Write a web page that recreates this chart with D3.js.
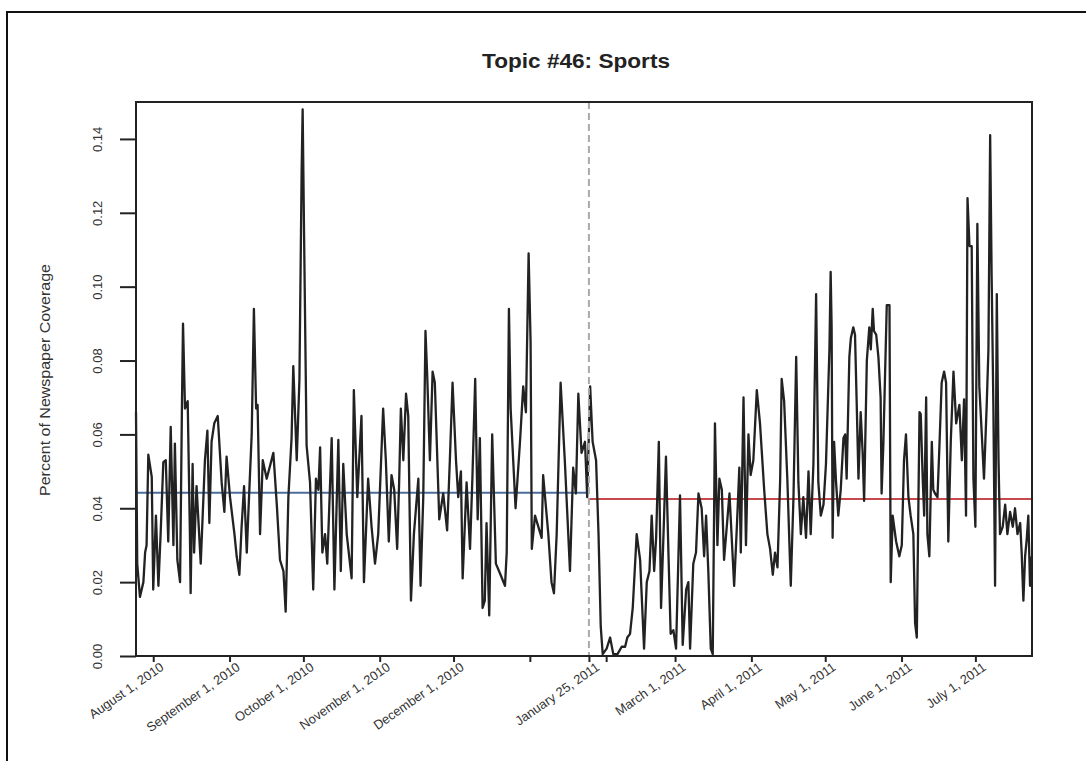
<!DOCTYPE html>
<html>
<head>
<meta charset="utf-8">
<script src="https://cdn.jsdelivr.net/npm/d3@7/dist/d3.min.js"></script>
<style>
  html, body { margin: 0; padding: 0; background: #fff; }
  svg { display: block; font-family: "Liberation Sans", Arial, sans-serif; }
  .axis path, .axis line { stroke: #222; stroke-width: 2; }
  .axis text { fill: #333; }
</style>
</head>
<body>
<svg id="chart" width="1086" height="761"></svg>
<script>
// ── Data ──
// day offsets from July 25, 2010 and the share of coverage on that day
const dayOffsets = [
  0, 0.5, 1.6, 3.0, 3.7, 4.3, 5.0, 6.4, 7.0, 8.1, 9.1, 10.0, 11.1, 12.1, 13.1, 14.1, 15.2, 15.8, 16.8, 17.9,
  18.7, 19.1, 19.9, 21.0, 21.9, 22.2, 23.0, 23.6, 24.6, 26.3, 28.0, 29.0, 29.8, 30.7, 31.8, 33.2, 34.8, 35.9, 36.8, 38.2,
  40.0, 40.9, 42.0, 42.9, 43.9, 45.0, 45.6, 47.0, 47.9, 48.8, 49.4, 50.4, 51.5, 53.1, 55.8, 57.2, 58.5, 59.9, 60.8, 61.9,
  63.2, 63.9, 65.3, 66.4, 67.3, 67.7, 68.3, 69.3, 70.7, 72.0, 73.1, 74.1, 74.8, 75.7, 76.8, 77.7, 79.5, 80.6, 82.2, 83.2,
  84.2, 85.6, 87.6,
  88.5, 89.9, 91.6, 92.6, 94.3, 95.7, 97.1, 98.4, 100.4, 101.5, 102.7, 103.8, 104.9, 106.1, 106.9, 107.6, 108.6, 109.7, 110.6, 111.7,
  112.9, 114.7, 115.6, 116.7, 117.6, 118.3, 119.4, 120.5, 121.4, 123.2, 124.8, 126.4, 127.5, 128.6, 130.0, 130.9, 132.0, 132.7, 134.3, 135.7,
  136.7, 137.8, 138.8, 139.7, 140.8, 141.7, 142.4, 143.5, 144.7, 146.2, 148.1, 149.9, 150.6, 151.5, 152.2, 154.2, 156.0, 157.3, 158.4, 159.5,
  160.3, 160.8, 162.1, 164.8, 165.4, 167.5, 168.8, 169.8, 170.9, 172.5, 174.2, 176.3, 177.6, 178.7, 179.7, 181.0, 182.4, 183.3,
  184.5, 185.5, 186.9, 187.9, 188.8, 189.6, 191.2, 192.6, 193.9, 195.6, 197.3, 198.7, 199.6, 200.7, 201.8, 203.4, 204.8, 206.4, 207.5, 208.6,
  209.5, 210.5, 211.3, 212.4, 213.3, 214.3, 215.3, 216.3, 217.2, 218.3, 219.4, 221.0, 222.1, 223.5, 224.4, 225.1, 226.4, 227.5, 228.5, 229.8,
  230.8, 231.6, 232.5, 233.5, 234.3, 235.2, 236.2, 237.0, 238.0, 238.9, 240.0, 241.1, 243.0, 244.1, 245.1, 245.7, 246.8, 247.8, 248.8, 249.7,
  250.8, 252.2, 253.5, 255.2, 256.5, 257.6, 258.7, 259.6, 260.6, 261.7, 262.3, 263.3, 264.6, 266.0, 267.1, 268.2, 269.1, 270.1, 271.1, 272.2,
  273.2, 274.1, 275.2, 276.3, 277.2, 278.2, 279.3, 280.3,
  281.7, 282.2, 282.6, 283.0, 283.6, 284.4, 285.3, 286.3, 287.4, 288.1, 288.7, 289.8, 290.4, 291.4, 292.1, 292.8, 293.5, 294.4, 295.2, 295.8,
  296.9, 297.9, 298.5, 299.3, 299.8, 300.7, 301.6, 302.5, 302.9, 303.6, 305.0, 306.1, 306.6, 307.4, 308.8, 310.1, 311.1, 312.0, 312.8, 313.8,
  314.7, 315.8, 316.5, 317.2, 318.3, 318.8, 319.6, 320.2, 321.0, 321.5, 322.3, 323.3, 323.9, 324.6, 325.6, 326.4, 327.3, 328.3, 329.1, 330.0,
  331.0, 332.1, 333.2, 334.5, 335.5, 336.4, 337.2, 337.8, 338.6, 339.5, 340.2, 341.0, 341.8, 342.6, 343.6, 344.5, 345.6, 346.3, 347.0, 347.6,
  348.3, 349.0, 349.7, 350.4, 351.0, 352.1, 353.1, 354.0, 355.1, 356.2, 357.1, 358.1, 359.2, 359.8, 360.5, 361.2, 361.9, 362.5, 363.2, 363.9
];
const coverage = [
  0.066, 0.025, 0.016, 0.020, 0.028, 0.030, 0.0545, 0.0485, 0.018, 0.038, 0.019, 0.033, 0.0525, 0.053, 0.031, 0.062, 0.030, 0.0575, 0.026, 0.020,
  0.070, 0.090, 0.067, 0.069, 0.033, 0.017, 0.052, 0.028, 0.046, 0.025, 0.053, 0.061, 0.036, 0.058, 0.063, 0.065, 0.047, 0.039, 0.054, 0.043,
  0.033, 0.027, 0.022, 0.035, 0.046, 0.028, 0.038, 0.060, 0.094, 0.067, 0.068, 0.033, 0.053, 0.048, 0.055, 0.041, 0.026, 0.023, 0.012, 0.043,
  0.059, 0.0785, 0.053, 0.075, 0.132, 0.148, 0.113, 0.057, 0.047, 0.018, 0.048, 0.045, 0.0565, 0.028, 0.033, 0.025, 0.059, 0.018, 0.0585, 0.023,
  0.052, 0.033, 0.021,
  0.072, 0.043, 0.065, 0.020, 0.048, 0.035, 0.025, 0.033, 0.067, 0.053, 0.031, 0.049, 0.045, 0.029, 0.047, 0.067, 0.053, 0.071, 0.065, 0.015,
  0.033, 0.048, 0.019, 0.043, 0.088, 0.076, 0.053, 0.077, 0.074, 0.037, 0.044, 0.034, 0.053, 0.074, 0.053, 0.043, 0.050, 0.021, 0.047, 0.029,
  0.049, 0.075, 0.037, 0.059, 0.013, 0.015, 0.036, 0.011, 0.060, 0.025, 0.022, 0.019, 0.028, 0.094, 0.067, 0.040, 0.058, 0.073, 0.066, 0.109,
  0.085, 0.029, 0.038, 0.032, 0.049, 0.033, 0.020, 0.017, 0.033, 0.074, 0.053, 0.023, 0.051, 0.044, 0.071, 0.055, 0.058, 0.043,
  0.073, 0.058, 0.053, 0.033, 0.008, 0.0005, 0.002, 0.005, 0.0005, 0.0005, 0.0025, 0.0025, 0.005, 0.006, 0.013, 0.033, 0.026, 0.002, 0.020, 0.023,
  0.038, 0.023, 0.032, 0.058, 0.013, 0.033, 0.054, 0.028, 0.006, 0.007, 0.002, 0.0435, 0.003, 0.018, 0.020, 0.002, 0.025, 0.028, 0.044, 0.040,
  0.027, 0.038, 0.023, 0.002, 0.0005, 0.063, 0.030, 0.048, 0.045, 0.026, 0.035, 0.044, 0.019, 0.035, 0.051, 0.028, 0.070, 0.030, 0.060, 0.049,
  0.053, 0.072, 0.063, 0.045, 0.033, 0.029, 0.022, 0.028, 0.024, 0.048, 0.075, 0.069, 0.048, 0.019, 0.043, 0.081, 0.047, 0.033, 0.043, 0.032,
  0.050, 0.033, 0.052, 0.098, 0.047, 0.038, 0.041, 0.052,
  0.083, 0.104, 0.089, 0.032, 0.058, 0.047, 0.038, 0.045, 0.059, 0.060, 0.048, 0.081, 0.086, 0.089, 0.087, 0.068, 0.048, 0.066, 0.055, 0.042,
  0.080, 0.089, 0.083, 0.094, 0.088, 0.087, 0.081, 0.070, 0.044, 0.057, 0.095, 0.095, 0.020, 0.038, 0.031, 0.027, 0.030, 0.053, 0.060, 0.043,
  0.038, 0.033, 0.009, 0.005, 0.066, 0.0655, 0.048, 0.038, 0.070, 0.033, 0.027, 0.058, 0.045, 0.044, 0.043, 0.057, 0.074, 0.077, 0.074, 0.031,
  0.058, 0.077, 0.063, 0.068, 0.053, 0.0695, 0.038, 0.124, 0.111, 0.111, 0.048, 0.035, 0.117, 0.073, 0.060, 0.048, 0.068, 0.083, 0.141, 0.103,
  0.068, 0.019, 0.098, 0.053, 0.033, 0.035, 0.041, 0.033, 0.039, 0.035, 0.040, 0.033, 0.036, 0.028, 0.015, 0.027, 0.032, 0.038, 0.019, 0.027
];

// before / after means and the break date
const meanBefore = 0.0442;
const meanAfter = 0.0425;
const breakDate = new Date(2011, 0, 25);

// tick dates; Jan 1 and Feb 1 carry a tick without a label
const tickDates = [
  new Date(2010, 7, 1), new Date(2010, 8, 1), new Date(2010, 9, 1), new Date(2010, 10, 1),
  new Date(2010, 11, 1), new Date(2011, 0, 1), new Date(2011, 0, 25), new Date(2011, 1, 1),
  new Date(2011, 2, 1), new Date(2011, 3, 1), new Date(2011, 4, 1), new Date(2011, 5, 1), new Date(2011, 6, 1)
];
const tickLabels = [
  "August 1, 2010", "September 1, 2010", "October 1, 2010", "November 1, 2010",
  "December 1, 2010", "", "January 25, 2011", "",
  "March 1, 2011", "April 1, 2011", "May 1, 2011", "June 1, 2011", "July 1, 2011"
];
const yTicks = [0, 0.02, 0.04, 0.06, 0.08, 0.10, 0.12, 0.14];

const startDate = new Date(2010, 6, 25);
const endDate = new Date(2011, 6, 24);
const DAY = 24 * 3600 * 1000;

// ── Layout ──
const plot = { left: 136, right: 1032, top: 102, bottom: 656 };
const svg = d3.select('#chart');

// outer frame (only top and left edges are visible in the picture)
svg.append('path')
  .attr('d', 'M7,761 L7,12 L1086,12')
  .attr('fill', 'none').attr('stroke', '#111').attr('stroke-width', 2);

const x = d3.scaleTime().domain([startDate, endDate]).range([plot.left, plot.right]);
const y = d3.scaleLinear().domain([0, 0.15]).range([plot.bottom, plot.top]);

const series = dayOffsets.map((d, i) => ({ date: new Date(startDate.getTime() + d * DAY), value: coverage[i] }));

// title
svg.append('text')
  .attr('x', 576).attr('y', 68)
  .attr('text-anchor', 'middle')
  .attr('font-size', 20).attr('font-weight', 'bold').attr('fill', '#222')
  .attr('textLength', 188).attr('lengthAdjust', 'spacingAndGlyphs')
  .text('Topic #46: Sports');

// y axis title
svg.append('text')
  .attr('transform', `translate(50,380) rotate(-90)`)
  .attr('text-anchor', 'middle')
  .attr('font-size', 14).attr('fill', '#333')
  .attr('textLength', 232).attr('lengthAdjust', 'spacingAndGlyphs')
  .text('Percent of Newspaper Coverage');

// mean lines
svg.append('line')
  .attr('x1', plot.left).attr('x2', x(breakDate))
  .attr('y1', y(meanBefore)).attr('y2', y(meanBefore))
  .attr('stroke', '#4a6e9c').attr('stroke-width', 2);
svg.append('line')
  .attr('x1', x(breakDate)).attr('x2', plot.right)
  .attr('y1', y(meanAfter)).attr('y2', y(meanAfter))
  .attr('stroke', '#c8494b').attr('stroke-width', 2);

// series line
const line = d3.line().x(d => x(d.date)).y(d => y(d.value));
svg.append('path')
  .datum(series)
  .attr('d', line)
  .attr('fill', 'none').attr('stroke', '#222').attr('stroke-width', 2.3)
  .attr('stroke-linejoin', 'round');

// dashed break line
svg.append('line')
  .attr('x1', x(breakDate)).attr('x2', x(breakDate))
  .attr('y1', plot.top).attr('y2', plot.bottom)
  .attr('stroke', '#aaa').attr('stroke-width', 2).attr('stroke-dasharray', '7,4');

// ── Axes ──
const xAxis = svg.append('g')
  .attr('class', 'axis')
  .attr('transform', `translate(0,${plot.bottom})`)
  .call(d3.axisBottom(x).tickValues(tickDates).tickSize(6).tickSizeOuter(0)
    .tickFormat((d, i) => tickLabels[i]));
xAxis.select('.domain').remove();
xAxis.selectAll('text')
  .attr('x', 0).attr('y', 0).attr('dy', 0)
  .attr('text-anchor', 'end')
  .attr('font-size', 13)
  .attr('transform', 'translate(11,13) rotate(-35)');

const yAxis = svg.append('g')
  .attr('class', 'axis')
  .attr('transform', `translate(${plot.left},0)`)
  .call(d3.axisLeft(y).tickValues(yTicks).tickSize(16).tickFormat(d3.format('.2f')));
yAxis.select('.domain').remove();
yAxis.selectAll('text')
  .attr('x', 0).attr('y', 0).attr('dy', 0)
  .attr('text-anchor', 'middle')
  .attr('font-size', 13)
  .attr('transform', 'translate(-34,0) rotate(-90)');

// plot box
svg.append('rect')
  .attr('x', plot.left).attr('y', plot.top)
  .attr('width', plot.right - plot.left).attr('height', plot.bottom - plot.top)
  .attr('fill', 'none').attr('stroke', '#222').attr('stroke-width', 2);
</script>
</body>
</html>
